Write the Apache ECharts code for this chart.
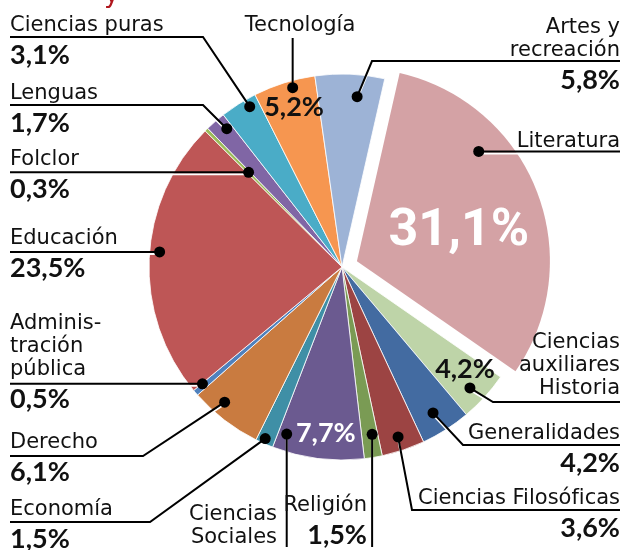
<!DOCTYPE html>
<html lang="es">
<head>
<meta charset="UTF-8">
<script src="https://cdn.jsdelivr.net/npm/echarts@6/dist/echarts.min.js"></script>
<style>
  html, body { margin: 0; padding: 0; background: #fff; }
  #chart { width: 623px; height: 550px; }
</style>
</head>
<body>
<div id="chart"></div>
<script>
// slices, clockwise from the top (Literatura is pulled out)
const names = ['Literatura', 'Ciencias\nauxiliares\nHistoria', 'Generalidades', 'Ciencias Filosóficas',
  'Religión', 'Ciencias\nSociales', 'Economía', 'Derecho', 'Adminis-\ntración\npública', 'Educación',
  'Folclor', 'Lenguas', 'Ciencias puras', 'Tecnología', 'Artes y\nrecreación'];
const shares = [31.1, 4.2, 4.2, 3.6, 1.5, 7.7, 1.5, 6.1, 0.5, 23.5, 0.3, 1.7, 3.1, 5.2, 5.8];
// share written inside the slice instead of under the name
const shownInside = [true, true, false, false, false, true, false, false, false, false, false, false, false, true, false];

const colors = ['#D4A2A5', '#BED4A8', '#436BA1', '#9C4443', '#7A9B54', '#6B5A90', '#3F8FA6', '#C97B40',
  '#4F81BD', '#BE5656', '#9BBB59', '#8066A5', '#4AACC7', '#F69650', '#9DB3D6'];

// geometry
const CX = 342, CY = 267, R = 193, EXPLODE = 16, START = 12.8; // start in degrees clockwise from top
const PULLED = 0; // index of the pulled-out slice

// leader lines: dot = [fraction across slice, radius], then the path after the dot (null = same as dot)
const dots = [[0.314, 164], [0.57, 176], [0.54, 172], [0.52, 179], [0.34, 170], [0.9, 176], [0.56, 188],
  [0.66, 179], [0.9, 182], [0.526, 183], [0.5, 133], [0.7, 180], [0.72, 185], [0.61, 186], [0.63, 171]];
const paths = [
  [[620, null]],
  [[493, 402], [620, 402]],
  [[463, 445], [620, 445]],
  [[412, 510], [620, 510]],
  [[null, 547]],
  [[null, 547]],
  [[150, 522], [10, 522]],
  [[143, 456], [10, 456]],
  [[10, null]],
  [[10, null]],
  [[10, null]],
  [[203, 105], [10, 105]],
  [[203, 37], [10, 37]],
  [[null, 38]],
  [[372, 61], [620, 61]]
];
// label boxes: [x, top, align]
const boxes = [[620, 130, 'right'], [620, 331, 'right'], [620, 422, 'right'], [620, 487, 'right'],
  [367, 494, 'right'], [277, 503, 'right'], [10, 498, 'left'], [10, 431, 'left'], [10, 312, 'left'],
  [10, 227, 'left'], [10, 148, 'left'], [10, 82, 'left'], [10, 14, 'left'], [300, 14, 'center'],
  [620, 16, 'right']];
// inside shares: index -> [fraction across slice, radius, font size, colour]
const insideAt = { 0: [0.547, 106, 52, '#fff'], 1: [0.33, 160, 27, '#111'], 5: [0.44, 167, 27, '#fff'], 13: [0.54, 167, 27, '#111'] };

const cum = [];
shares.reduce((s, v, i) => { cum[i] = s; return s + v; }, 0);
const pct = i => shares[i].toFixed(1).replace('.', ',') + '%';
const midRad = i => (START + 3.6 * (cum[i] + 0.5 * shares[i])) * Math.PI / 180;
function point(i, f, r) {
  const a = (START + 3.6 * (cum[i] + f * shares[i])) * Math.PI / 180;
  const off = i === PULLED ? EXPLODE : 0;
  return [CX + off * Math.sin(midRad(i)) + r * Math.sin(a), CY - off * Math.cos(midRad(i)) - r * Math.cos(a)];
}
const clear = 'rgba(0,0,0,0)';
const pieBase = { type: 'pie', radius: R, startAngle: 90 - START, clockwise: true, avoidLabelOverlap: false, silent: true, emphasis: { disabled: true } };

const chart = echarts.init(document.getElementById('chart'));
chart.setOption({
  animation: false,
  graphic: [{
    type: 'text', x: 104, y: -5, z: 100,
    style: { text: 'y', fill: '#B0161D', font: '26px "DejaVu Sans"', verticalAlign: 'middle' }
  }].concat(dots.map((d, i) => {
    const p = point(i, d[0], d[1]);
    return { type: 'circle', z: 100, shape: { cx: p[0], cy: p[1], r: 5.5 }, style: { fill: '#000' } };
  })),
  series: [Object.assign({}, pieBase, {
    // all slices but the pulled-out one
    z: 1,
    center: [CX, CY],
    itemStyle: { borderColor: '#fff', borderWidth: 0.8 },
    label: { show: false },
    labelLine: { show: false },
    data: names.map((n, i) => ({
      name: n, value: shares[i],
      itemStyle: i === PULLED ? { color: clear, borderWidth: 0 } : { color: colors[i] }
    }))
  }), Object.assign({}, pieBase, {
    // the pulled-out slice on its own shifted centre
    z: 1,
    center: [CX + EXPLODE * Math.sin(midRad(PULLED)), CY - EXPLODE * Math.cos(midRad(PULLED))],
    label: { show: false },
    labelLine: { show: false },
    data: names.map((n, i) => ({ name: n, value: shares[i], itemStyle: { color: i === PULLED ? colors[i] : clear } }))
  }), Object.assign({}, pieBase, {
    // names, outside shares and leader lines
    z: 2,
    center: [CX, CY],
    itemStyle: { color: clear },
    label: {
      position: 'outside',
      formatter: p => {
        let s = p.name.split('\n').map(l => '{n|' + l + '}').join('\n');
        if (!shownInside[p.dataIndex]) s += '\n{p|' + pct(p.dataIndex) + '}';
        return s;
      },
      rich: {
        n: { fontFamily: 'DejaVu Sans', fontSize: 21, lineHeight: 23, color: '#111' },
        p: { fontFamily: 'Lato', fontWeight: 'bold', fontSize: 27, lineHeight: 36, color: '#111' }
      }
    },
    labelLine: {
      show: true, showAbove: true, smooth: false,
      lineStyle: { color: '#000', width: 2, shadowColor: '#fff', shadowBlur: 0, shadowOffsetY: 2 }
    },
    labelLayout: p => {
      const i = p.dataIndex;
      const d = point(i, dots[i][0], dots[i][1]);
      const pts = [d].concat(paths[i].map(q => [q[0] == null ? d[0] : q[0], q[1] == null ? d[1] : q[1]]));
      return { x: boxes[i][0], y: boxes[i][1], align: boxes[i][2], verticalAlign: 'top', labelLinePoints: pts };
    },
    data: names.map((n, i) => ({ name: n, value: shares[i] }))
  }), Object.assign({}, pieBase, {
    // shares written inside their slices
    z: 3,
    center: [CX, CY],
    itemStyle: { color: clear },
    label: {
      position: 'inside',
      fontFamily: 'Lato',
      fontWeight: 'bold',
      formatter: p => shownInside[p.dataIndex] ? pct(p.dataIndex) : ''
    },
    labelLine: { show: false },
    labelLayout: p => {
      const s = insideAt[p.dataIndex];
      if (!s) return {};
      const q = point(p.dataIndex, s[0], s[1]);
      return { x: q[0], y: q[1], align: 'center', verticalAlign: 'middle', fontSize: s[2] };
    },
    data: names.map((n, i) => ({
      name: n, value: shares[i],
      label: insideAt[i] ? { color: insideAt[i][3], fontFamily: i === PULLED ? 'Roboto' : 'Lato' } : {}
    }))
  })]
});
</script>
</body>
</html>
